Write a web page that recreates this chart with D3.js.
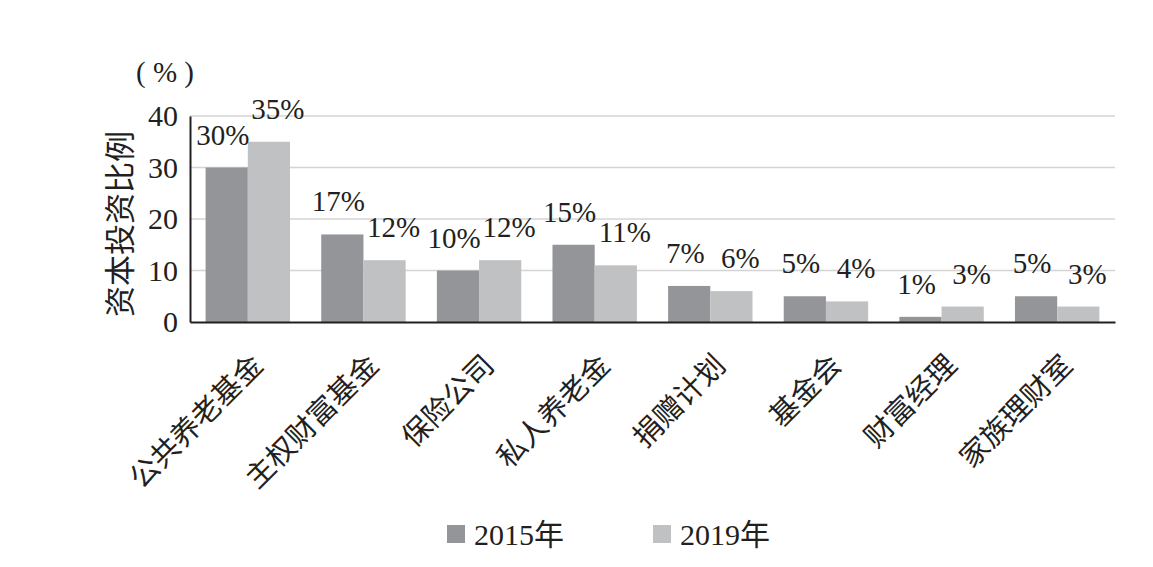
<!DOCTYPE html>
<html>
<head>
<meta charset="utf-8">
<script src="https://cdn.jsdelivr.net/npm/d3@7"></script>
<style>
  body { margin: 0; background: #fff; }
  svg { display: block; }
  text { font-family: "Liberation Serif", "Noto Sans CJK SC", serif; fill: #231f20; }
</style>
</head>
<body>
<div id="chart"></div>
<script>
// 数据
const categories = ["公共养老基金", "主权财富基金", "保险公司", "私人养老金", "捐赠计划", "基金会", "财富经理", "家族理财室"];
const seriesNames = ["2015年", "2019年"];
const values2015 = [30, 17, 10, 15, 7, 5, 1, 5];
const values2019 = [35, 12, 12, 11, 6, 4, 3, 3];
const yTicks = [0, 10, 20, 30, 40];
const colors = ["#939598", "#c0c1c3"];

const width = 1153, height = 567;
const plot = { left: 190, right: 1115, top: 116, bottom: 322 };
const labelShift = [-4, 9]; // 标签水平微调（每个系列）

const svg = d3.select("#chart").append("svg")
    .attr("width", width)
    .attr("height", height);

const x0 = d3.scaleBand()
    .domain(categories)
    .range([plot.left, plot.right])
    .paddingInner(0.27)
    .paddingOuter(0.135);

const x1 = d3.scaleBand()
    .domain(seriesNames)
    .range([0, x0.bandwidth()]);

const y = d3.scaleLinear()
    .domain([0, 40])
    .range([plot.bottom, plot.top]);

// 网格线
svg.append("g")
    .selectAll("line")
    .data(yTicks.filter(d => d > 0))
    .enter().append("line")
    .attr("x1", plot.left)
    .attr("x2", plot.right)
    .attr("y1", d => y(d))
    .attr("y2", d => y(d))
    .attr("stroke", "#d4d4d4")
    .attr("stroke-width", 1.5);

// 柱子
const rows = categories.map((c, i) => ({ cat: c, vals: [values2015[i], values2019[i]] }));

const groups = svg.append("g")
    .selectAll("g")
    .data(rows)
    .enter().append("g")
    .attr("transform", d => `translate(${x0(d.cat)},0)`);

groups.selectAll("rect")
    .data(d => d.vals.map((v, k) => ({ s: seriesNames[k], v: v, k: k })))
    .enter().append("rect")
    .attr("x", d => x1(d.s))
    .attr("y", d => y(d.v))
    .attr("width", x1.bandwidth())
    .attr("height", d => y(0) - y(d.v))
    .attr("fill", d => colors[d.k]);

// 数值标签
groups.selectAll("text")
    .data(d => d.vals.map((v, k) => ({ s: seriesNames[k], v: v, k: k })))
    .enter().append("text")
    .attr("x", d => x1(d.s) + x1.bandwidth() / 2 + labelShift[d.k])
    .attr("y", d => y(d.v) - 23)
    .attr("text-anchor", "middle")
    .style("font-size", "29px")
    .text(d => d.v + "%");

// 坐标轴
const yAxis = svg.append("g")
    .attr("transform", `translate(${plot.left},0)`)
    .call(d3.axisLeft(y).tickValues(yTicks).tickSize(0).tickPadding(12));
yAxis.select(".domain").attr("stroke", "#231f20").attr("stroke-width", 2);
yAxis.selectAll("text")
    .style("font-size", "30px")
    .attr("font-family", null)
    .attr("fill", null);

const xAxis = svg.append("g")
    .attr("transform", `translate(0,${plot.bottom})`)
    .call(d3.axisBottom(x0).tickSize(0).tickPadding(0));
xAxis.select(".domain").attr("stroke", "#231f20").attr("stroke-width", 2);
xAxis.selectAll("text")
    .attr("font-family", null)
    .attr("fill", null)
    .attr("dy", null)
    .attr("y", 0)
    .attr("transform", "translate(17,45)rotate(-45)")
    .style("text-anchor", "end")
    .style("font-size", "29px");

// 轴标题
svg.append("text")
    .attr("transform", "translate(131,224)rotate(-90)")
    .attr("text-anchor", "middle")
    .style("font-size", "31px")
    .text("资本投资比例");

svg.append("text")
    .attr("x", 165)
    .attr("y", 82)
    .attr("text-anchor", "middle")
    .style("font-size", "29px")
    .attr("xml:space", "preserve")
    .text("( % )");

// 图例
const legend = svg.append("g")
    .selectAll("g")
    .data(seriesNames)
    .enter().append("g")
    .attr("transform", (d, i) => `translate(${447 + i * 206},525)`);

legend.append("rect")
    .attr("width", 18)
    .attr("height", 18)
    .attr("fill", (d, i) => colors[i]);

legend.append("text")
    .attr("x", 27)
    .attr("y", 20)
    .style("font-size", "30px")
    .text(d => d);
</script>
</body>
</html>
